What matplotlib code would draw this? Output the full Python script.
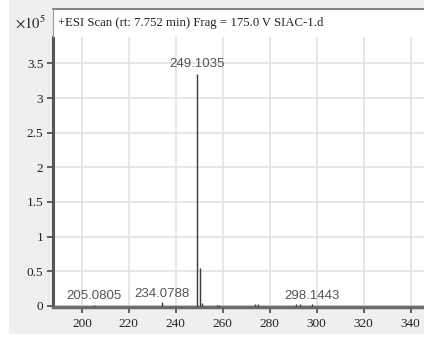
import matplotlib
matplotlib.use("Agg")
import matplotlib.pyplot as plt
from matplotlib.patches import Rectangle

# peak list (m/z, intensity in 1e5 counts)
mz = [205.08, 234.08, 249.10, 250.10, 251.1, 257.5, 258.3, 273.6, 275.2, 291.2, 292.8, 298.14]
inten = [0.01, 0.05, 3.35, 0.55, 0.04, 0.02, 0.02, 0.025, 0.025, 0.03, 0.03, 0.03]
lab_mz = [205.0805, 234.0788, 249.1035, 298.1443]
lab_y = [0.05, 0.08, 3.40, 0.06]
lab_text = ["205.0805", "234.0788", "249.1035", "298.1443"]
xticks = [200, 220, 240, 260, 280, 300, 320, 340]
yticks = [0, 0.5, 1, 1.5, 2, 2.5, 3, 3.5]
ytick_labels = ["0", "0.5", "1", "1.5", "2", "2.5", "3", "3.5"]
title = "+ESI Scan (rt: 7.752 min) Frag = 175.0\u2009V SIAC-1.d"

W, H = 424, 342
fig = plt.figure(figsize=(W / 100, H / 100), dpi=100)
fig.patch.set_facecolor("white")
fig.add_artist(Rectangle((9 / W, (H - 334) / H), 1, 334 / H, transform=fig.transFigure,
                         facecolor="#efefef", edgecolor="none", zorder=0))
# header band above the plot
fig.add_artist(Rectangle((53 / W, (H - 37) / H), 1, 28 / H, transform=fig.transFigure,
                         facecolor="white", edgecolor="none", zorder=1))
fig.add_artist(plt.Line2D([53 / W, 1], [(H - 9) / H] * 2, transform=fig.transFigure,
                          color="#7a7a7a", lw=1.3, zorder=2))
fig.add_artist(plt.Line2D([53 / W] * 2, [(H - 9) / H, (H - 37) / H], transform=fig.transFigure,
                          color="#9a9a9a", lw=0.8, zorder=2))
fig.text(58 / W, (H - 23) / H, title, family="Liberation Serif", fontsize=9.2,
         va="center", ha="left", color="#222222", zorder=3)
fig.text(15 / W, (H - 23) / H, r"$\times10^5$", fontsize=10.5, va="center", ha="left",
         color="#222222", family="Liberation Serif", math_fontfamily="stix")

ax = fig.add_axes([53 / W, (H - 307) / H, 1 - 53 / W + 0.01, 270 / H])
ax.set_facecolor("white")
ax.vlines(mz, 0, inten, color="#3a3a3a", lw=1.0, zorder=3)
for x, y, t in zip(lab_mz, lab_y, lab_text):
    ax.text(x, y, t, ha="center", va="bottom", fontsize=9.5, color="#555555",
            family="Liberation Sans", zorder=4)

ax.set_xlim(187.7, 347.5)
ax.set_ylim(-0.015, 3.88)
ax.set_xticks(xticks)
ax.set_yticks(yticks)
ax.set_yticklabels(ytick_labels)
ax.grid(True, color="#e2e2e2", lw=1.2, zorder=0)
ax.set_axisbelow(True)
for lab in ax.get_xticklabels() + ax.get_yticklabels():
    lab.set_family("Liberation Serif")
    lab.set_fontsize(9.5)
    lab.set_color("#222222")
ax.tick_params(axis="both", length=4, width=1.3, color="#555555", pad=3)
ax.tick_params(axis="x", pad=4)
for s in ["top", "right"]:
    ax.spines[s].set_visible(False)
ax.spines["left"].set_color("#555555")
ax.spines["left"].set_linewidth(2.2)
ax.spines["bottom"].set_color("#6a6a6a")
ax.spines["bottom"].set_linewidth(2.5)

fig.savefig("out.png", dpi=100)
